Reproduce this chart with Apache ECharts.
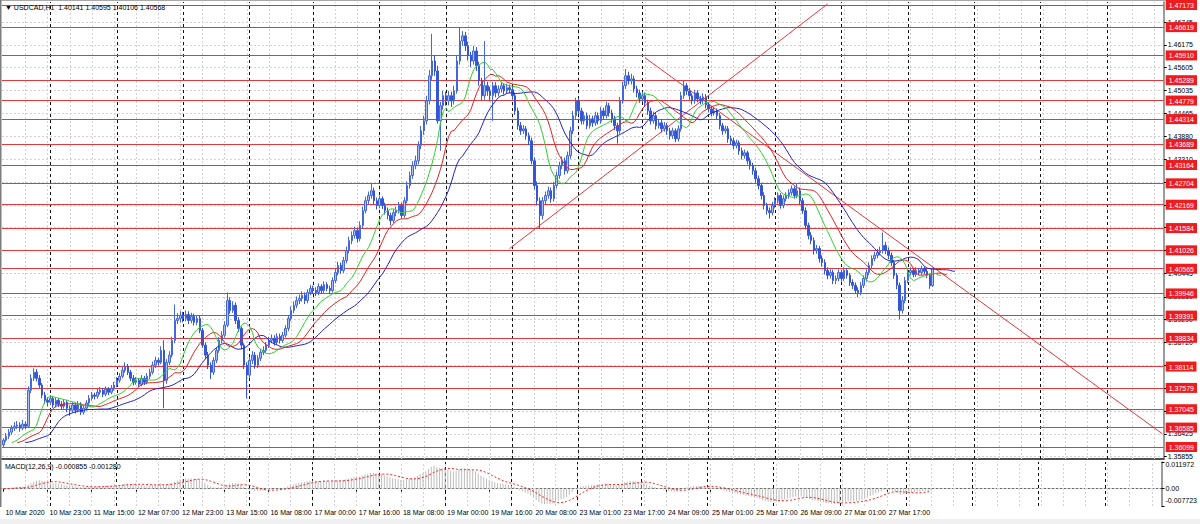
<!DOCTYPE html>
<html><head><meta charset="utf-8">
<script src="https://cdn.jsdelivr.net/npm/echarts@6/dist/echarts.min.js"></script>
<style>html,body{margin:0;padding:0;background:#fff}#c{width:1200px;height:524px}</style>
</head><body><div id="c"></div>
<script>
// ---------- data ----------
const symbolTitle = 'USDCAD,H1';
const headerValues = ['1.40141', '1.40595', '1.40106', '1.40568'];
const macdTitle = 'MACD(12,26,9)';
const macdValues = ['-0.000855', '-0.001280'];

const timeLabels = ['10 Mar 2020','10 Mar 23:00','11 Mar 15:00','12 Mar 07:00','12 Mar 23:00','13 Mar 15:00',
  '16 Mar 08:00','17 Mar 00:00','17 Mar 16:00','18 Mar 08:00','19 Mar 00:00','19 Mar 16:00','20 Mar 08:00',
  '23 Mar 01:00','23 Mar 17:00','24 Mar 09:00','25 Mar 01:00','25 Mar 17:00','26 Mar 09:00','27 Mar 01:00','27 Mar 17:00'];

const firstOpen = 1.3615;
const closes = [
1.3627,1.3637,1.3647,1.3657,1.3662,1.3665,1.3657,1.3667,1.3662,1.3752,
1.3782,1.3797,1.3782,1.3765,1.3740,1.3727,1.3722,1.3732,1.3715,1.3727,
1.3717,1.3712,1.3722,1.3707,1.3702,1.3715,1.3702,1.3717,1.3697,1.3707,
1.3720,1.3732,1.3740,1.3737,1.3747,1.3752,1.3742,1.3755,1.3747,1.3757,
1.3765,1.3777,1.3787,1.3802,1.3812,1.3797,1.3782,1.3772,1.3777,1.3767,
1.3782,1.3772,1.3787,1.3797,1.3815,1.3827,1.3822,1.3852,1.3777,1.3822,
1.3840,1.3877,1.3927,1.3932,1.3940,1.3932,1.3942,1.3927,1.3937,1.3922,
1.3932,1.3902,1.3865,1.3840,1.3815,1.3797,1.3827,1.3852,1.3877,1.3890,
1.3915,1.3977,1.3952,1.3965,1.3927,1.3907,1.3865,1.3815,1.3790,1.3827,
1.3840,1.3815,1.3832,1.3847,1.3852,1.3865,1.3877,1.3882,1.3872,1.3887,
1.3877,1.3890,1.3907,1.3932,1.3952,1.3965,1.3977,1.3982,1.3990,1.3977,
1.3997,1.4007,1.4002,1.3997,1.4012,1.4002,1.4017,1.4007,1.4002,1.4027,
1.4047,1.4065,1.4052,1.4077,1.4102,1.4127,1.4140,1.4152,1.4132,1.4165,
1.4202,1.4227,1.4240,1.4252,1.4227,1.4215,1.4232,1.4215,1.4202,1.4190,
1.4177,1.4197,1.4202,1.4215,1.4190,1.4227,1.4265,1.4290,1.4315,1.4327,
1.4365,1.4402,1.4427,1.4477,1.4540,1.4577,1.4552,1.4427,1.4465,1.4490,
1.4477,1.4490,1.4477,1.4502,1.4577,1.4627,1.4640,1.4615,1.4590,1.4577,
1.4602,1.4565,1.4527,1.4490,1.4515,1.4502,1.4490,1.4515,1.4497,1.4507,
1.4515,1.4502,1.4510,1.4505,1.4490,1.4452,1.4415,1.4402,1.4407,1.4390,
1.4377,1.4327,1.4265,1.4227,1.4190,1.4227,1.4240,1.4252,1.4232,1.4265,
1.4290,1.4315,1.4327,1.4302,1.4340,1.4402,1.4440,1.4477,1.4452,1.4427,
1.4440,1.4415,1.4432,1.4422,1.4440,1.4427,1.4452,1.4440,1.4465,1.4447,
1.4432,1.4415,1.4402,1.4477,1.4515,1.4540,1.4527,1.4532,1.4507,1.4497,
1.4482,1.4490,1.4472,1.4452,1.4427,1.4440,1.4415,1.4422,1.4407,1.4415,
1.4402,1.4390,1.4402,1.4382,1.4407,1.4490,1.4515,1.4502,1.4490,1.4477,
1.4497,1.4482,1.4477,1.4487,1.4467,1.4457,1.4447,1.4452,1.4440,1.4415,
1.4402,1.4407,1.4382,1.4377,1.4365,1.4372,1.4352,1.4340,1.4347,1.4327,
1.4315,1.4302,1.4282,1.4265,1.4240,1.4215,1.4202,1.4197,1.4215,1.4227,
1.4240,1.4215,1.4232,1.4240,1.4247,1.4257,1.4240,1.4252,1.4227,1.4202,
1.4165,1.4140,1.4127,1.4102,1.4107,1.4082,1.4072,1.4052,1.4040,1.4047,
1.4027,1.4032,1.4047,1.4032,1.4052,1.4040,1.4022,1.4015,1.4002,1.3997,
1.4015,1.4032,1.4047,1.4065,1.4082,1.4090,1.4097,1.4102,1.4115,1.4102,
1.4090,1.4072,1.4040,1.4015,1.3952,1.3977,1.4027,1.4047,1.4052,1.4042,
1.4052,1.4047,1.4057,1.4050,1.4040,1.40141,1.40568];

const highs = [
1.3632,1.3645,1.3655,1.3664,1.3672,1.3675,1.3672,1.3678,1.3674,1.3762,
1.3792,1.3807,1.3805,1.3790,1.3770,1.3748,1.3735,1.3740,1.3738,1.3734,
1.3732,1.3725,1.3730,1.3727,1.3714,1.3722,1.3720,1.3725,1.3722,1.3715,
1.3727,1.3740,1.3748,1.3746,1.3755,1.3760,1.3758,1.3762,1.3760,1.3765,
1.3773,1.3785,1.3795,1.3810,1.3822,1.3818,1.3803,1.3790,1.3785,1.3782,
1.3790,1.3788,1.3795,1.3806,1.3824,1.3836,1.3833,1.3862,1.3877,1.3830,
1.3850,1.3886,1.3967,1.3945,1.3950,1.3948,1.3952,1.3950,1.3946,1.3944,
1.3940,1.3938,1.3908,1.3872,1.3848,1.3822,1.3835,1.3860,1.3885,1.3900,
1.3925,1.3997,1.3985,1.3975,1.3972,1.3935,1.3912,1.3870,1.3822,1.3835,
1.3850,1.3848,1.3840,1.3855,1.3862,1.3873,1.3886,1.3892,1.3890,1.3895,
1.3894,1.3898,1.3915,1.3940,1.3962,1.3975,1.3987,1.3992,1.4000,1.3997,
1.4005,1.4016,1.4014,1.4010,1.4020,1.4018,1.4025,1.4023,1.4014,1.4035,
1.4056,1.4074,1.4072,1.4086,1.4112,1.4137,1.4150,1.4162,1.4160,1.4175,
1.4212,1.4237,1.4250,1.4270,1.4260,1.4235,1.4240,1.4238,1.4222,1.4210,
1.4197,1.4205,1.4212,1.4224,1.4222,1.4236,1.4275,1.4300,1.4326,1.4340,
1.4376,1.4414,1.4440,1.4490,1.4555,1.4645,1.4592,1.4565,1.4475,1.4502,
1.4500,1.4502,1.4500,1.4515,1.4590,1.4660,1.4652,1.4650,1.4625,1.4600,
1.4615,1.4612,1.4575,1.4535,1.4627,1.4525,1.4512,1.4525,1.4524,1.4516,
1.4525,1.4522,1.4520,1.4518,1.4512,1.4498,1.4460,1.4424,1.4416,1.4414,
1.4398,1.4385,1.4335,1.4275,1.4235,1.4236,1.4250,1.4262,1.4260,1.4274,
1.4300,1.4325,1.4338,1.4335,1.4350,1.4412,1.4452,1.4485,1.4484,1.4460,
1.4450,1.4448,1.4442,1.4440,1.4450,1.4448,1.4462,1.4460,1.4475,1.4472,
1.4455,1.4440,1.4422,1.4487,1.4525,1.4557,1.4550,1.4545,1.4540,1.4515,
1.4505,1.4500,1.4498,1.4480,1.4460,1.4450,1.4448,1.4432,1.4430,1.4424,
1.4422,1.4410,1.4410,1.4408,1.4416,1.4500,1.4527,1.4522,1.4510,1.4496,
1.4505,1.4504,1.4490,1.4496,1.4494,1.4474,1.4464,1.4460,1.4458,1.4446,
1.4422,1.4415,1.4414,1.4390,1.4385,1.4380,1.4378,1.4360,1.4355,1.4352,
1.4335,1.4322,1.4310,1.4290,1.4272,1.4248,1.4222,1.4210,1.4224,1.4236,
1.4248,1.4246,1.4240,1.4248,1.4256,1.4265,1.4263,1.4270,1.4260,1.4234,
1.4210,1.4172,1.4148,1.4135,1.4116,1.4114,1.4090,1.4080,1.4060,1.4055,
1.4054,1.4040,1.4055,1.4054,1.4060,1.4058,1.4046,1.4030,1.4022,1.4010,
1.4023,1.4040,1.4055,1.4073,1.4090,1.4099,1.4106,1.4112,1.4147,1.4124,
1.4110,1.4097,1.4078,1.4046,1.4022,1.3988,1.4036,1.4055,1.4060,1.4058,
1.4060,1.4058,1.4064,1.4062,1.4056,1.4045,1.40595];

const lows = [
1.3610,1.3622,1.3630,1.3641,1.3650,1.3655,1.3648,1.3652,1.3655,1.3658,
1.3745,1.3775,1.3774,1.3758,1.3732,1.3718,1.3712,1.3715,1.3708,1.3709,
1.3710,1.3704,1.3706,1.3697,1.3688,1.3696,1.3694,1.3697,1.3690,1.3691,
1.3701,1.3714,1.3726,1.3729,1.3731,1.3741,1.3735,1.3737,1.3740,1.3742,
1.3751,1.3760,1.3771,1.3782,1.3796,1.3790,1.3775,1.3764,1.3766,1.3760,
1.3762,1.3765,1.3767,1.3780,1.3792,1.3808,1.3814,1.3817,1.3707,1.3768,
1.3815,1.3834,1.3870,1.3918,1.3922,1.3922,1.3925,1.3918,1.3920,1.3914,
1.3915,1.3895,1.3858,1.3830,1.3805,1.3780,1.3790,1.3820,1.3846,1.3870,
1.3884,1.3910,1.3944,1.3946,1.3918,1.3898,1.3855,1.3805,1.3732,1.3782,
1.3818,1.3806,1.3808,1.3825,1.3840,1.3845,1.3858,1.3870,1.3864,1.3866,
1.3869,1.3871,1.3884,1.3900,1.3926,1.3945,1.3958,1.3968,1.3974,1.3968,
1.3970,1.3990,1.3994,1.3988,1.3990,1.3995,1.3996,1.4000,1.3993,1.3997,
1.4020,1.4040,1.4044,1.4046,1.4070,1.4095,1.4118,1.4132,1.4122,1.4125,
1.4158,1.4195,1.4218,1.4232,1.4218,1.4205,1.4208,1.4206,1.4192,1.4180,
1.4165,1.4170,1.4188,1.4195,1.4182,1.4184,1.4220,1.4257,1.4282,1.4306,
1.4318,1.4356,1.4392,1.4418,1.4468,1.4530,1.4540,1.4420,1.4352,1.4455,
1.4465,1.4466,1.4462,1.4468,1.4495,1.4568,1.4615,1.4602,1.4578,1.4562,
1.4568,1.4552,1.4515,1.4478,1.4480,1.4490,1.4476,1.4427,1.4486,1.4488,
1.4498,1.4493,1.4494,1.4496,1.4480,1.4442,1.4405,1.4392,1.4394,1.4380,
1.4366,1.4318,1.4255,1.4215,1.4157,1.4180,1.4218,1.4232,1.4222,1.4225,
1.4258,1.4282,1.4306,1.4292,1.4295,1.4332,1.4394,1.4432,1.4444,1.4418,
1.4418,1.4406,1.4408,1.4412,1.4415,1.4418,1.4420,1.4430,1.4433,1.4438,
1.4422,1.4404,1.4370,1.4395,1.4470,1.4507,1.4518,1.4518,1.4498,1.4486,
1.4472,1.4474,1.4462,1.4442,1.4418,1.4420,1.4405,1.4408,1.4398,1.4400,
1.4392,1.4380,1.4382,1.4374,1.4375,1.4400,1.4482,1.4492,1.4480,1.4468,
1.4470,1.4474,1.4468,1.4470,1.4458,1.4448,1.4438,1.4440,1.4430,1.4406,
1.4392,1.4395,1.4372,1.4367,1.4356,1.4358,1.4342,1.4330,1.4332,1.4318,
1.4305,1.4292,1.4272,1.4255,1.4230,1.4205,1.4192,1.4182,1.4190,1.4208,
1.4220,1.4207,1.4208,1.4225,1.4232,1.4240,1.4232,1.4233,1.4218,1.4194,
1.4155,1.4130,1.4118,1.4092,1.4094,1.4072,1.4062,1.4042,1.4030,1.4032,
1.4018,1.4018,1.4025,1.4024,1.4026,1.4032,1.4013,1.4006,1.3994,1.3985,
1.3990,1.4008,1.4025,1.4040,1.4058,1.4075,1.4083,1.4090,1.4095,1.4093,
1.4080,1.4063,1.4031,1.4005,1.3930,1.3944,1.3970,1.4020,1.4040,1.4035,
1.4036,1.4040,1.4041,1.4043,1.4033,1.4006,1.40106];

// horizontal price levels (red lines with red price tags)
const levels = [1.47173,1.46619,1.45910,1.45289,1.44779,1.44314,1.43689,1.43164,1.42704,1.42169,
  1.41584,1.41026,1.40565,1.39946,1.39391,1.38834,1.38114,1.37579,1.37045,1.36585,1.36099];
// grey price grid lines
const gridTicks = [1.46745,1.46175,1.45605,1.45035,1.44465,1.43880,1.43310,1.42740,1.42165,1.41595,
  1.41020,1.40445,1.39860,1.39290,1.38720,1.38145,1.37575,1.37000,1.36425,1.35855];
// grey price labels that are not fully covered by a red tag
const gridLabels = [1.46745,1.46175,1.45605,1.45035,1.44465,1.43880,1.43310,1.40445,1.39860,1.39290,
  1.38720,1.36425,1.35855];
const macdTicks = [0.011972, 0, -0.007723];
// day separator bar indices
const daySeparators = [17,41,65,89,112,136,160,184,208,231,255,279,303,327,351,375,399];
// trend lines: [barIndex, price] anchor pairs
const trendLines = [
  [[183, 1.4107], [298, 1.4720]],
  [[232, 1.4585], [419, 1.3643]]
];
const barSlots = 420;       // visible bar slots incl. empty right margin
const gridStep = 8;         // vertical grid every 8 bars
const priceMin = 1.35798, priceMax = 1.47248;
const macdMin = -0.007723, macdMax = 0.011972;

// ---------- derived (indicators computed from the bars, as the terminal does) ----------
const cats = Array.from({length: barSlots}, (_, i) => i);
const opens = closes.map((c, i) => i === 0 ? firstOpen : closes[i - 1]);
const candles = closes.map((c, i) => [opens[i], c, lows[i], highs[i]]);
const medians = highs.map((h, i) => (h + lows[i]) / 2);
function smma(src, n) { const out = []; let v = src[0]; src.forEach((p, i) => { v = i === 0 ? p : (v * (n - 1) + p) / n; out.push(v); }); return out; }
function shifted(arr, s) { const out = new Array(barSlots).fill(null); arr.forEach((v, i) => { if (i + s < barSlots) out[i + s] = v; }); return out; }
function ema(src, n) { const k = 2 / (n + 1); const out = []; let v = src[0]; src.forEach((p, i) => { v = i === 0 ? p : v + k * (p - v); out.push(v); }); return out; }
const jaw = shifted(smma(medians, 13), 8);
const teeth = shifted(smma(medians, 8), 5);
const lips = shifted(smma(medians, 5), 3);
const e12 = ema(closes, 12), e26 = ema(closes, 26);
const macdMain = closes.map((_, i) => e12[i] - e26[i]);
const macdSignal = macdMain.map((_, i) => { const w = macdMain.slice(Math.max(0, i - 8), i + 1); return w.reduce((a, b) => a + b, 0) / w.length; });

// ---------- styles ----------
const FONT = 'Liberation Sans, Arial, sans-serif';
const greyDash = {color: '#d2d2d2', type: [2, 2], width: 1};
const blackDash = {color: '#111111', type: [3, 3], width: 1};
const redLine = {color: '#e3383c', type: 'solid', width: 1};

const vGridItems = [];
for (let i = gridStep; i < barSlots; i += gridStep) vGridItems.push({xAxis: i, lineStyle: greyDash});
const sepItems = daySeparators.map(i => ({xAxis: i, lineStyle: blackDash}));
const hGridItems = gridTicks.map(v => ({yAxis: v, lineStyle: greyDash}));
const levelItems = levels.map(v => ({yAxis: v, lineStyle: redLine}));
const trendItems = trendLines.map(t => [{coord: t[0], lineStyle: redLine}, {coord: t[1]}]);

const mlBase = {silent: true, precision: 6, symbol: ['none', 'none'], label: {show: false}, animation: false, emphasis: {disabled: true}};
const tickInterval = (i) => i % 16 === 0 && i / 16 < timeLabels.length;

const chart = echarts.init(document.getElementById('c'), null, {renderer: 'svg'});
chart.setOption({
  animation: false,
  backgroundColor: '#ffffff',
  textStyle: {fontFamily: FONT},
  grid: [
    {left: 2, right: 34, top: 1, height: 458},
    {left: 2, right: 34, top: 462, height: 44}
  ],
  xAxis: [
    {type: 'category', gridIndex: 0, data: cats, boundaryGap: true,
     axisLine: {show: true, lineStyle: {color: '#505050', width: 2}}, axisTick: {show: false}, axisLabel: {show: false}, splitLine: {show: false}},
    {type: 'category', gridIndex: 1, data: cats, boundaryGap: true,
     axisLine: {show: true, lineStyle: {color: '#6a6a6a', width: 1}},
     axisTick: {show: true, interval: tickInterval, alignWithLabel: true, length: 3, lineStyle: {color: '#000'}},
     axisLabel: {show: true, interval: tickInterval, align: 'left', margin: 3, fontSize: 7, color: '#000', fontFamily: FONT,
       padding: [0, 0, 0, 2], formatter: (v, i) => timeLabels[i / 16] || ''},
     splitLine: {show: false}}
  ],
  yAxis: [
    {type: 'value', gridIndex: 0, position: 'right', min: priceMin, max: priceMax,
     axisLine: {show: true, lineStyle: {color: '#7a7a7a', width: 1.5}},
     axisTick: {show: true, customValues: gridTicks, length: 3, lineStyle: {color: '#000'}},
     axisLabel: {show: true, customValues: gridLabels, formatter: v => v.toFixed(5), fontSize: 7, color: '#000', margin: 4, fontFamily: FONT},
     splitLine: {show: false}},
    {type: 'value', gridIndex: 0, position: 'right', min: priceMin, max: priceMax, z: 3,
     axisLine: {show: false}, axisTick: {show: false}, splitLine: {show: false},
     axisLabel: {show: true, customValues: levels, margin: 2, fontFamily: FONT,
       formatter: v => '{r|' + v.toFixed(5) + '}',
       rich: {r: {backgroundColor: '#ee1c1c', color: '#ffffff', fontSize: 7, padding: [2, 3, 1, 3], fontFamily: FONT}}}},
    {type: 'value', gridIndex: 1, position: 'right', min: macdMin, max: macdMax,
     axisLine: {show: true, lineStyle: {color: '#7a7a7a', width: 1.5}},
     axisTick: {show: true, customValues: macdTicks, length: 3, lineStyle: {color: '#000'}},
     axisLabel: {show: true, customValues: macdTicks, margin: 4, fontFamily: FONT, color: '#000', fontSize: 7,
       formatter: v => v === 0 ? '{m|0.00}' : (v > 0 ? '{t|' + v.toFixed(6) + '}' : '{b|' + v.toFixed(6) + '}'),
       rich: {t: {fontSize: 7, padding: [4, 0, 0, 0]}, m: {fontSize: 7}, b: {fontSize: 7, padding: [0, 0, 12, 0]}}},
     splitLine: {show: false}}
  ],
  series: [
    {name: 'grid', type: 'line', xAxisIndex: 0, yAxisIndex: 0, data: [], silent: true,
     markLine: Object.assign({}, mlBase, {z: 1, data: hGridItems.concat(vGridItems, sepItems)})},
    {name: 'levels', type: 'line', xAxisIndex: 0, yAxisIndex: 0, data: [], silent: true,
     markLine: Object.assign({}, mlBase, {z: 2, data: levelItems.concat(trendItems)})},
    {name: 'USDCAD', type: 'candlestick', xAxisIndex: 0, yAxisIndex: 0, data: candles, z: 3, barWidth: 2,
     itemStyle: {color: '#a9bff2', color0: '#3456d6', borderColor: '#4467dc', borderColor0: '#3456d6', borderWidth: 1}},
    {name: 'Jaw', type: 'line', xAxisIndex: 0, yAxisIndex: 0, data: jaw, z: 4, symbol: 'none', showSymbol: false,
     lineStyle: {color: '#2323c8', width: 1}},
    {name: 'Teeth', type: 'line', xAxisIndex: 0, yAxisIndex: 0, data: teeth, z: 4, symbol: 'none', showSymbol: false,
     lineStyle: {color: '#e02424', width: 1}},
    {name: 'Lips', type: 'line', xAxisIndex: 0, yAxisIndex: 0, data: lips, z: 4, symbol: 'none', showSymbol: false,
     lineStyle: {color: '#2fcf2f', width: 1}},
    {name: 'macdGrid', type: 'line', xAxisIndex: 1, yAxisIndex: 2, data: [], silent: true,
     markLine: Object.assign({}, mlBase, {z: 1, data: [{yAxis: 0, lineStyle: greyDash}].concat(vGridItems, sepItems)})},
    {name: 'MACD', type: 'bar', xAxisIndex: 1, yAxisIndex: 2, data: macdMain, z: 2, barWidth: 1,
     itemStyle: {color: '#bcbcbc'}},
    {name: 'Signal', type: 'line', xAxisIndex: 1, yAxisIndex: 2, data: macdSignal, z: 3, symbol: 'none', showSymbol: false,
     lineStyle: {color: '#ff1f1f', width: 1, type: [2, 2]}}
  ],
  graphic: [
    {type: 'rect', left: 0, top: 0, z: 50, shape: {width: 1166, height: 1}, style: {fill: '#a8a8a8'}},
    {type: 'rect', left: 0, top: 0, z: 50, shape: {width: 1.5, height: 507}, style: {fill: '#7d7d7d'}},
    {type: 'rect', left: 0, top: 519, z: 50, shape: {width: 1200, height: 5}, style: {fill: '#f0f0f0'}},
    {type: 'text', left: 5, top: 4, z: 60, style: {text: '\u25BC ' + symbolTitle + '  ' + headerValues.join(' '), fill: '#000', font: '7px ' + FONT}},
    {type: 'text', left: 5, top: 463, z: 60, style: {text: macdTitle + ' ' + macdValues.join(' '), fill: '#000', font: '7px ' + FONT}}
  ]
});
</script>
</body></html>
